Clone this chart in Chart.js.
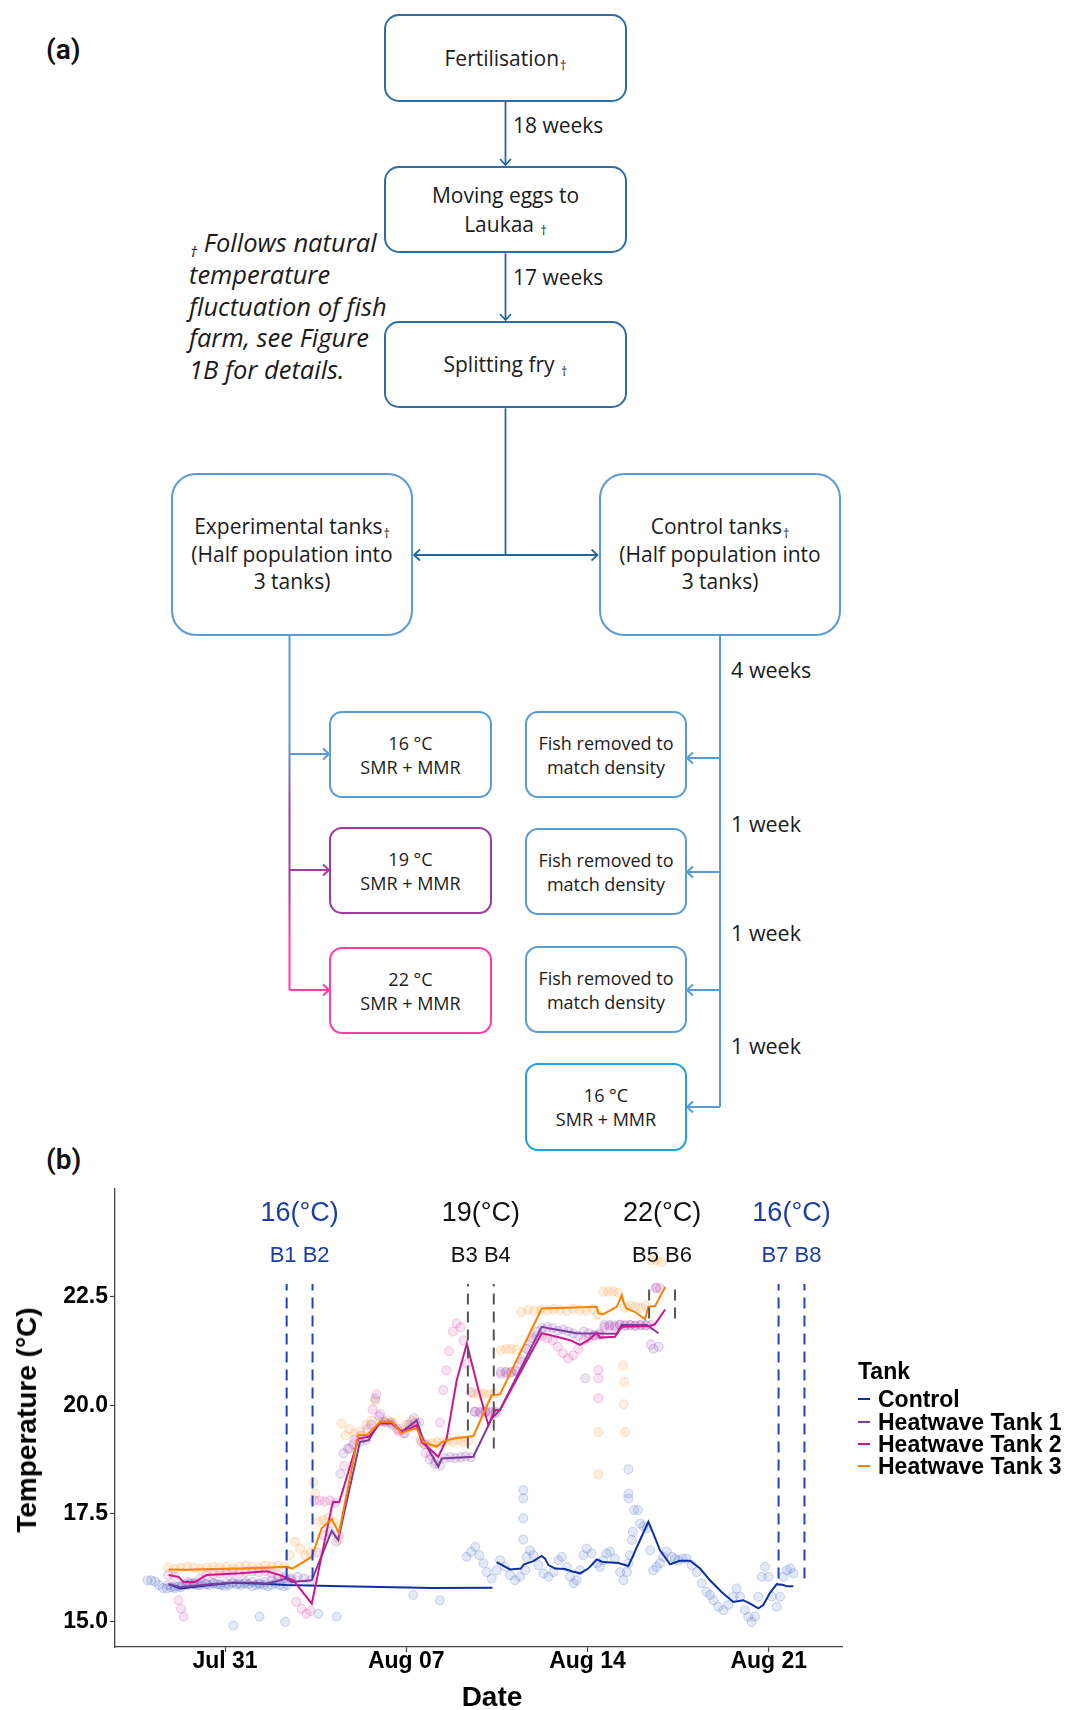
<!DOCTYPE html>
<html>
<head>
<meta charset="utf-8">
<script src="https://cdn.jsdelivr.net/npm/chart.js@4.4.0/dist/chart.umd.min.js"></script>
<style>
  html, body { margin: 0; padding: 0; background: #fff; }
  #page { position: relative; width: 1071px; height: 1710px; overflow: hidden; background: #fff;
          font-family: "Open Sans", Roboto, "Liberation Sans", sans-serif; color: #1b1b1b; }
  .box { position: absolute; box-sizing: border-box; display: flex; flex-direction: column;
         align-items: center; justify-content: center; text-align: center; background: #fff; white-space: nowrap; }
  .tb { left: 384px; width: 243px; border: 2px solid #2f6ea5; border-radius: 15px; font-size: 21px; line-height: 28.5px; }
  .big { top: 473px; width: 242px; height: 163px; border: 2px solid #5b9bd5; border-radius: 25px; font-size: 21px; line-height: 27.8px; }
  .sm { width: 163px; height: 87px; border: 2px solid #5b9bd5; border-radius: 13px; font-size: 18px; line-height: 24px; }
  .dg { font-size: 0.6em; line-height: 0; vertical-align: -0.3em; margin-left: 1px; }
  .lbl { position: absolute; font-size: 21px; line-height: 28px; white-space: nowrap; }
  .rl { font-size: 21.5px; }
  .panel { position: absolute; left: 46px; font-family: Roboto, sans-serif; font-size: 28px; line-height: 28px; font-weight: 600; color: #111; }
  .note { position: absolute; left: 189px; top: 227px; font-size: 25.5px; line-height: 31.8px; font-style: italic; white-space: nowrap; }
  .ax { position: absolute; font-family: "Liberation Sans", Arial, sans-serif; font-weight: bold; color: #000; white-space: nowrap; }
  .leg { position: absolute; left: 858px; font-family: "Liberation Sans", Arial, sans-serif; font-weight: bold;
         font-size: 23px; line-height: 22px; color: #000; white-space: nowrap; }
  .leg i { position: absolute; left: 0; top: 10px; width: 12px; height: 2px; }
  .leg span { position: absolute; left: 20px; top: 0; }
  #chartBox { position: absolute; left: 0; top: 1150px; width: 1071px; height: 560px; }
</style>
</head>
<body>
<div id="page">

  <!-- connectors of the study design -->
  <svg width="1071" height="1160" style="position:absolute;left:0;top:0" fill="none">
    <defs>
      <linearGradient id="branch" gradientUnits="userSpaceOnUse" x1="0" y1="636" x2="0" y2="990">
        <stop offset="0.30" stop-color="#5b9bd5"/>
        <stop offset="0.50" stop-color="#9e3aa0"/>
        <stop offset="0.68" stop-color="#a43aa2"/>
        <stop offset="0.86" stop-color="#ff3da5"/>
      </linearGradient>
    </defs>
    <g stroke="#24679a" stroke-width="1.8">
      <path d="M505.5 101.7 V165"/><path d="M500 159 L505.5 165 L511 159"/>
      <path d="M505.5 253.3 V320"/><path d="M500 314 L505.5 320 L511 314"/>
      <path d="M505.5 408.3 V555"/>
      <path d="M414 555 H597.5"/>
      <path d="M420 549.5 L414 555 L420 560.5"/>
      <path d="M591.5 549.5 L597.5 555 L591.5 560.5"/>
    </g>
    <g stroke-width="2">
      <path d="M289.5 636 V990" stroke="url(#branch)"/>
      <path d="M289.5 754 H329" stroke="#5b9bd5"/><path d="M323 748.5 L329 754 L323 759.5" stroke="#5b9bd5"/>
      <path d="M289.5 870 H329" stroke="#a03ca2"/><path d="M323 864.5 L329 870 L323 875.5" stroke="#a03ca2"/>
      <path d="M289.5 990 H329" stroke="#ff3da5"/><path d="M323 984.5 L329 990 L323 995.5" stroke="#ff3da5"/>
    </g>
    <g stroke="#5b9bd5" stroke-width="2">
      <path d="M720 636 V1107"/>
      <path d="M720 758 H687"/><path d="M693 752.5 L687 758 L693 763.5"/>
      <path d="M720 872 H687"/><path d="M693 866.5 L687 872 L693 877.5"/>
      <path d="M720 990 H687"/><path d="M693 984.5 L687 990 L693 995.5"/>
      <path d="M720 1107 H687"/><path d="M693 1101.5 L687 1107 L693 1112.5"/>
    </g>
  </svg>

  <div class="panel" style="top:36px">(a)</div>

  <div class="box tb" style="top:14px;height:88px"><div>Fertilisation<span class="dg">†</span></div></div>
  <div class="box tb" style="top:166px;height:87px"><div>Moving eggs to</div><div>Laukaa <span class="dg">†</span></div></div>
  <div class="box tb" style="top:321px;height:87px"><div>Splitting fry <span class="dg">†</span></div></div>

  <div class="lbl" style="left:513px;top:111px">18 weeks</div>
  <div class="lbl" style="left:513px;top:263px">17 weeks</div>

  <div class="note"><span class="dg" style="vertical-align:-0.35em">†</span> Follows natural<br>temperature<br>fluctuation of fish<br>farm, see Figure<br>1B for details.</div>

  <div class="box big" style="left:171px"><div>Experimental tanks<span class="dg">†</span></div><div>(Half population into</div><div>3 tanks)</div></div>
  <div class="box big" style="left:599px"><div>Control tanks<span class="dg">†</span></div><div>(Half population into</div><div>3 tanks)</div></div>

  <div class="box sm" style="left:329px;top:711px"><div>16 °C</div><div>SMR + MMR</div></div>
  <div class="box sm" style="left:329px;top:827px;border-color:#9e3aa0"><div>19 °C</div><div>SMR + MMR</div></div>
  <div class="box sm" style="left:329px;top:947px;border-color:#ff3da5"><div>22 °C</div><div>SMR + MMR</div></div>

  <div class="box sm" style="left:525px;top:711px;width:162px"><div>Fish removed to</div><div>match density</div></div>
  <div class="box sm" style="left:525px;top:828px;width:162px"><div>Fish removed to</div><div>match density</div></div>
  <div class="box sm" style="left:525px;top:946px;width:162px"><div>Fish removed to</div><div>match density</div></div>
  <div class="box sm" style="left:525px;top:1063px;width:162px;height:88px;border-color:#1fa2dc"><div>16 °C</div><div>SMR + MMR</div></div>

  <div class="lbl rl" style="left:731px;top:656px">4 weeks</div>
  <div class="lbl rl" style="left:731px;top:810px">1 week</div>
  <div class="lbl rl" style="left:731px;top:919px">1 week</div>
  <div class="lbl rl" style="left:731px;top:1032px">1 week</div>

  <div class="panel" style="top:1146px">(b)</div>

  <div id="chartBox"><canvas id="temps" width="1071" height="560"></canvas></div>

  <div class="ax" style="left:27px;top:1420px;font-size:28px;line-height:28px;transform:translate(-50%,-50%) rotate(-90deg)">Temperature (°C)</div>
  <div class="ax" style="left:492px;top:1683px;font-size:28px;line-height:28px;transform:translateX(-50%)">Date</div>

  <div id="legend"></div>
</div>

<script>
// Days are counted from 31 July 00:00.
const tickDays = [0, 7, 14, 21];
const tickLabels = ['Jul 31', 'Aug 07', 'Aug 14', 'Aug 21'];
const tempTicks = [15, 17.5, 20, 22.5];

const seriesNames = ['Control', 'Heatwave Tank 1', 'Heatwave Tank 2', 'Heatwave Tank 3'];

// Smoothed temperature per tank
const ctrlLineDays = [-2.18,-1.73,-0.58,0.32,1.50,2.38,4.50,6.50,8.00,10.33,10.41,10.49,11.01,11.42,11.55,11.91,12.23,12.36,12.49,12.75,13.13,13.39,13.71,14.03,14.36,14.61,15.19,15.58,15.77,16.03,16.35,16.54,16.80,17.19,17.57,17.96,18.35,18.73,19.18,19.63,20.02,20.28,20.60,20.79,21.05,21.31,21.57,21.70,21.95];
const ctrlLineTemps = [15.87,15.77,15.85,15.90,15.88,15.85,15.82,15.80,15.78,15.79,null,16.38,16.21,16.23,16.33,16.40,16.52,16.46,16.31,16.23,16.22,16.17,16.12,16.23,16.44,16.38,16.36,16.29,16.54,16.89,17.31,17.04,16.65,16.33,16.41,16.41,16.23,15.96,15.69,15.46,15.50,15.42,15.31,15.39,15.67,15.87,15.85,15.82,15.82];

const hw1LineDays = [-2.18,-1.73,-0.58,0.32,1.22,1.61,2.38,2.58,3.35,4.12,4.37,5.21,5.54,5.99,6.44,6.82,7.40,7.66,8.24,8.37,9.59,10.30,10.62,12.23,12.55,13.59,15.13,15.32,16.29,16.74];
const hw1LineTemps = [15.87,15.80,15.87,15.90,15.90,15.88,16.00,15.92,15.96,17.10,16.89,19.15,19.19,19.62,19.62,19.38,19.65,19.19,18.58,18.77,18.81,19.69,19.89,21.81,21.77,21.66,21.65,21.85,21.85,21.66];

const hw2LineDays = [-2.18,-1.80,-1.61,-1.16,-0.84,-0.71,0.58,1.61,2.12,2.45,2.64,3.35,4.12,4.18,4.41,5.15,5.54,5.99,6.44,6.82,7.14,7.40,7.60,8.24,8.56,8.95,9.34,9.79,10.17,10.43,10.62,12.23,12.55,13.33,13.71,14.03,14.36,14.48,15.06,15.32,16.42,16.61,17.00];
const hw2LineTemps = [16.08,16.04,15.92,15.92,16.04,16.08,16.12,16.17,16.08,16.00,15.96,15.42,17.65,17.77,17.76,19.23,19.27,19.58,19.58,19.38,19.46,19.54,19.15,18.81,19.23,20.58,21.42,20.35,19.54,19.89,19.89,21.66,21.62,21.50,21.39,21.50,21.67,21.56,21.58,21.81,21.83,21.87,22.21];

const hw3LineDays = [-2.18,-1.50,-0.50,0.58,1.50,2.38,2.60,3.35,3.73,4.12,4.40,5.15,5.47,5.99,6.44,6.82,7.05,7.40,7.66,8.17,8.37,8.82,9.59,10.30,10.62,12.23,14.36,14.42,14.61,15.13,15.32,15.41,15.51,15.84,16.22,16.35,16.61,17.00];
const hw3LineTemps = [16.21,16.20,16.22,16.23,16.25,16.27,16.23,16.50,17.16,17.37,17.05,19.31,19.31,19.62,19.62,19.35,19.42,19.46,19.15,19.04,19.15,19.23,19.29,20.23,20.25,22.23,22.27,22.12,22.10,22.27,22.54,22.35,22.23,22.15,21.98,22.27,22.29,22.73];

// Logged readings per tank
const ctrlPtDays = [-3.00,-2.85,-2.70,-2.55,-2.40,-2.25,-2.10,-1.95,-1.80,-1.65,-1.50,-1.35,-1.20,-1.05,-0.90,-0.75,-0.60,-0.45,-0.30,-0.15,0.00,0.15,0.30,0.45,0.60,0.75,0.90,1.05,1.20,1.35,1.50,1.65,1.80,1.95,2.10,2.25,2.40,
  0.32,1.33,2.32,3.60,4.31,7.27,8.30,
  9.33,9.50,9.66,9.82,9.98,10.11,10.30,10.49,10.62,10.81,11.01,11.20,11.39,11.52,11.52,11.52,11.52,11.59,11.65,11.78,11.91,12.10,12.30,12.49,12.68,12.88,13.01,13.20,13.33,13.46,13.58,13.71,13.84,13.97,14.16,14.36,14.48,14.61,14.74,14.87,15.06,15.26,15.39,15.52,15.58,15.58,15.58,15.58,15.64,15.71,15.75,15.80,15.95,16.03,16.16,16.29,16.42,16.54,16.67,16.80,16.93,17.06,17.25,17.38,17.51,17.67,17.83,18.03,18.22,18.41,18.60,18.73,18.86,19.05,19.25,19.44,19.63,19.76,19.89,20.08,20.21,20.34,20.47,20.60,20.73,20.86,20.99,21.12,21.31,21.44,21.57,21.70,21.83,21.95];
const ctrlPtTemps = [15.96,15.96,15.93,15.85,15.78,15.77,15.80,15.78,15.82,15.85,15.87,15.89,15.87,15.85,15.89,15.87,15.85,15.89,15.87,15.85,15.82,15.85,15.89,15.87,15.85,15.89,15.87,15.82,15.85,15.87,15.85,15.82,15.85,15.89,15.85,15.82,15.85,
  14.92,15.12,15.00,15.19,15.12,15.62,15.50,
  16.50,16.62,16.73,16.54,16.35,16.15,16.00,16.19,16.42,16.27,16.08,15.96,16.04,16.90,17.39,17.85,18.04,16.19,16.50,16.65,16.54,16.31,16.12,16.04,16.15,16.42,16.50,16.27,16.04,15.89,15.96,16.19,16.54,16.69,16.58,16.35,16.27,16.42,16.58,16.62,16.46,16.15,15.96,16.15,16.35,17.85,17.96,18.52,16.54,16.89,17.08,17.58,17.58,17.27,17.20,17.16,16.65,16.19,16.27,16.35,16.50,16.62,16.50,16.46,16.42,16.46,16.46,16.31,16.15,15.89,15.69,15.62,15.50,15.35,15.27,15.39,15.58,15.77,15.58,15.27,15.12,15.00,15.12,15.58,16.04,16.27,16.04,15.58,15.35,15.58,16.04,16.19,16.23,16.12];

const hw1PtDays = [-2.20,-1.95,-1.70,-1.45,-1.20,-0.95,-0.70,-0.45,-0.20,0.05,0.30,0.55,0.80,1.05,1.30,1.55,1.80,2.05,2.30,2.55,2.80,3.05,3.30,3.55,3.80,4.05,4.30,4.45,4.57,4.75,4.95,5.20,5.45,5.65,5.80,5.95,6.15,6.40,6.65,6.90,7.10,7.30,7.50,7.70,7.90,8.10,8.30,8.50,8.70,8.90,9.10,9.30,9.50,9.65,9.85,10.05,10.25,10.45,10.65,10.85,11.05,11.25,11.45,11.65,11.85,12.05,12.25,12.45,12.65,12.85,13.05,13.25,13.45,13.65,13.85,13.91,14.05,14.25,14.45,14.65,14.85,15.05,15.25,15.45,15.65,15.85,16.05,16.25,16.45,16.55,16.65,16.75];
const hw1PtTemps = [15.85,15.82,15.80,15.85,15.87,15.85,15.87,15.89,15.87,15.89,15.92,15.89,15.92,15.92,15.89,15.92,15.96,16.00,16.04,16.00,16.04,16.00,15.96,16.60,17.00,17.08,16.85,18.42,18.89,19.00,19.10,19.15,19.20,19.55,20.15,19.75,19.62,19.60,19.45,19.35,19.55,19.70,19.60,19.10,18.75,18.65,18.60,18.78,18.80,18.78,18.80,18.82,18.80,19.85,19.85,19.85,19.85,19.82,20.77,20.77,20.77,20.80,21.05,21.30,21.55,21.70,21.78,21.80,21.78,21.72,21.75,21.70,21.66,21.60,21.70,20.62,21.66,21.62,21.66,21.85,21.85,21.84,21.86,21.85,21.85,21.84,21.85,21.85,21.40,21.30,22.70,21.35];

const hw2PtDays = [-2.20,-1.95,-1.80,-1.70,-1.60,-1.45,-1.20,-0.95,-0.70,-0.45,-0.20,0.05,0.30,0.55,0.80,1.05,1.30,1.55,1.80,2.05,2.30,2.55,2.75,2.95,3.15,3.30,3.45,3.65,3.85,4.05,4.25,4.40,4.60,4.80,5.00,5.25,5.50,5.70,5.85,6.00,6.20,6.45,6.70,6.95,7.15,7.35,7.55,7.75,7.95,8.15,8.30,8.43,8.55,8.65,8.80,8.95,9.10,9.20,9.35,9.50,9.65,9.85,10.05,10.25,10.45,10.65,10.85,11.05,11.25,11.45,11.65,11.85,12.05,12.25,12.45,12.65,12.85,13.05,13.25,13.45,13.65,13.85,14.05,14.25,14.42,14.42,14.42,14.45,14.65,14.85,15.05,15.25,15.45,15.65,15.85,16.05,16.25,16.45,16.65,16.80];
const hw2PtTemps = [16.08,16.05,15.50,15.30,15.12,15.92,15.90,16.00,16.08,16.10,16.12,16.12,16.15,16.12,16.15,16.17,16.15,16.17,16.12,16.08,16.00,15.96,15.46,15.30,15.19,15.25,17.80,17.80,17.78,17.80,17.75,17.00,18.60,19.00,19.20,19.30,19.45,19.90,20.25,19.80,19.60,19.55,19.40,19.35,19.50,19.60,19.20,18.90,18.85,18.70,19.60,20.35,20.80,21.25,21.70,21.89,21.80,21.50,20.95,20.30,19.85,19.82,19.85,19.82,19.85,20.72,20.75,20.75,20.78,21.00,21.30,21.50,21.60,21.60,21.55,21.50,21.35,21.20,21.08,21.15,21.30,21.50,21.55,21.60,20.81,20.62,20.16,21.62,21.80,21.82,21.80,21.85,21.83,21.85,21.83,21.85,21.84,21.85,22.72,22.70];

const hw3PtDays = [-2.20,-1.95,-1.70,-1.45,-1.20,-0.95,-0.70,-0.45,-0.20,0.05,0.30,0.55,0.80,1.05,1.30,1.55,1.80,2.05,2.30,2.50,2.70,2.90,3.10,3.30,3.41,3.48,3.60,3.80,4.00,4.20,4.40,4.50,4.65,4.80,5.00,5.20,5.45,5.65,5.80,6.00,6.25,6.50,6.75,7.00,7.20,7.40,7.60,7.80,8.00,8.20,8.40,8.60,8.80,9.00,9.20,9.40,9.60,9.80,10.00,10.20,10.40,10.65,10.85,11.05,11.25,11.45,11.70,11.95,12.20,12.45,12.70,12.95,13.20,13.45,13.70,13.95,14.20,14.40,14.42,14.42,14.61,14.80,15.00,15.20,15.38,15.42,15.40,15.45,15.45,15.65,15.85,16.05,16.25,16.45,16.65,16.85];
const hw3PtTemps = [16.25,16.22,16.25,16.27,16.25,16.22,16.25,16.27,16.25,16.27,16.25,16.27,16.30,16.27,16.25,16.30,16.27,16.30,16.27,16.54,16.85,16.69,16.54,16.60,18.23,17.96,17.31,17.35,17.40,17.30,16.90,19.58,19.30,19.45,19.35,19.40,19.55,19.65,20.10,19.62,19.65,19.60,19.45,19.55,19.65,19.55,19.15,19.10,19.12,19.15,19.15,19.18,19.15,19.20,19.15,19.18,20.27,20.27,20.27,20.25,20.27,21.27,21.30,21.30,21.28,22.15,22.20,22.18,22.20,22.19,22.22,22.20,22.18,22.22,22.20,22.18,22.22,22.10,19.38,18.40,22.62,22.62,22.62,22.60,20.92,20.54,20.02,19.38,22.25,22.30,22.28,22.25,22.30,23.35,23.35,23.30];

// Measurement blocks: day pairs, treatment temperature and codes
const blockDays = [[2.38, 3.38], [9.38, 10.38], [16.38, 17.38], [21.38, 22.38]];
const blockTemps = [16, 19, 22, 16];
const blockCodes = ['B1 B2', 'B3 B4', 'B5 B6', 'B7 B8'];
const blockTop = 22.8;

// ---- styling ----
const lineColors = ['#0e2f9f', '#7d3b9c', '#cc168b', '#ff8000'];
const pointRGB = ['70,105,200', '135,75,178', '212,70,165', '255,150,45'];
const blockTextColors = ['#1d3ca8', '#111111', '#111111', '#1d3ca8'];
const blockDashColors = ['#2342c4', '#555555', '#555555', '#2342c4'];
const TITLE_LEVEL = 24.25;   // baseline of the "xx(°C)" captions
const CODE_LEVEL = 23.31;    // baseline of the block codes

const zip = (xs, ys) => xs.map((x, i) => ({ x: x, y: ys[i] }));

const lineSets = [
  [ctrlLineDays, ctrlLineTemps], [hw1LineDays, hw1LineTemps],
  [hw2LineDays, hw2LineTemps], [hw3LineDays, hw3LineTemps]
];
const pointSets = [
  [ctrlPtDays, ctrlPtTemps], [hw1PtDays, hw1PtTemps],
  [hw2PtDays, hw2PtTemps], [hw3PtDays, hw3PtTemps]
];

const datasets = [];
blockDays.forEach((pair, i) => {
  datasets.push({
    type: 'line', label: blockCodes[i],
    data: [{ x: pair[0], y: blockTemps[i] }, { x: pair[0], y: blockTop },
           { x: (pair[0] + pair[1]) / 2, y: null },
           { x: pair[1], y: blockTemps[i] }, { x: pair[1], y: blockTop }],
    borderColor: blockDashColors[i], borderWidth: 2, borderDash: [11, 7],
    pointRadius: 0, spanGaps: false, order: 0
  });
});
lineSets.forEach((s, i) => {
  datasets.push({
    type: 'line', label: seriesNames[i], data: zip(s[0], s[1]),
    borderColor: lineColors[i], borderWidth: 2, pointRadius: 0, tension: 0,
    spanGaps: false, order: 4 - i
  });
});
pointSets.forEach((s, i) => {
  datasets.push({
    type: 'line', label: seriesNames[i] + ' readings', data: zip(s[0], s[1]),
    showLine: false, pointStyle: 'circle', pointRadius: 4.5, borderWidth: 1,
    backgroundColor: 'rgba(' + pointRGB[i] + ',0.15)',
    borderColor: 'rgba(' + pointRGB[i] + ',0.26)', order: 10
  });
});

const blockLabels = {
  id: 'blockLabels',
  afterDatasetsDraw(chart) {
    const ctx = chart.ctx, xs = chart.scales.x, ys = chart.scales.y;
    ctx.save();
    ctx.textAlign = 'center';
    ctx.textBaseline = 'alphabetic';
    blockDays.forEach((pair, i) => {
      const px = xs.getPixelForValue((pair[0] + pair[1]) / 2);
      ctx.fillStyle = blockTextColors[i];
      ctx.font = '27px "Liberation Sans", Arial, sans-serif';
      ctx.fillText(blockTemps[i] + '(°C)', px, ys.getPixelForValue(TITLE_LEVEL));
      ctx.font = '22px "Liberation Sans", Arial, sans-serif';
      ctx.fillText(blockCodes[i], px, ys.getPixelForValue(CODE_LEVEL));
    });
    ctx.restore();
  }
};

const tickFont = { family: '"Liberation Sans", Arial, sans-serif', size: 23, weight: 'bold', lineHeight: 1 };

new Chart(document.getElementById('temps'), {
  type: 'line',
  data: { datasets: datasets },
  plugins: [blockLabels],
  options: {
    responsive: false, animation: false, devicePixelRatio: 1,
    layout: { padding: { left: 0, top: 39, right: 229, bottom: 0 } },
    plugins: { legend: { display: false }, tooltip: { enabled: false } },
    scales: {
      x: {
        type: 'linear', min: -4.25, max: 23.83,
        afterFit: s => { s.height = 63; },
        afterBuildTicks: s => { s.ticks = tickDays.map(v => ({ value: v })); },
        ticks: { callback: v => tickLabels[tickDays.indexOf(v)], color: '#000', font: tickFont,
                 padding: -2, maxRotation: 0, autoSkip: false },
        grid: { drawOnChartArea: false, drawTicks: true, tickLength: 5, color: '#444', tickWidth: 1.2 },
        border: { display: true, color: '#444', width: 1.3 }
      },
      y: {
        type: 'linear', min: 14.42, max: 24.99,
        afterFit: s => { s.width = 115; },
        afterBuildTicks: s => { s.ticks = tempTicks.map(v => ({ value: v })); },
        ticks: { callback: v => v.toFixed(1), color: '#000', font: tickFont, padding: 2 },
        grid: { drawOnChartArea: false, drawTicks: true, tickLength: 5, color: '#444', tickWidth: 1.2 },
        border: { display: true, color: '#444', width: 1.3 }
      }
    }
  }
});

// legend
const legend = document.getElementById('legend');
const title = document.createElement('div');
title.className = 'leg';
title.style.top = '1360px';
title.textContent = 'Tank';
legend.appendChild(title);
const legendTops = [1388, 1410.5, 1433, 1454.5];
seriesNames.forEach((name, i) => {
  const row = document.createElement('div');
  row.className = 'leg';
  row.style.top = legendTops[i] + 'px';
  row.innerHTML = '<i style="background:' + lineColors[i] + '"></i><span>' + name + '</span>';
  legend.appendChild(row);
});
</script>
</body>
</html>
